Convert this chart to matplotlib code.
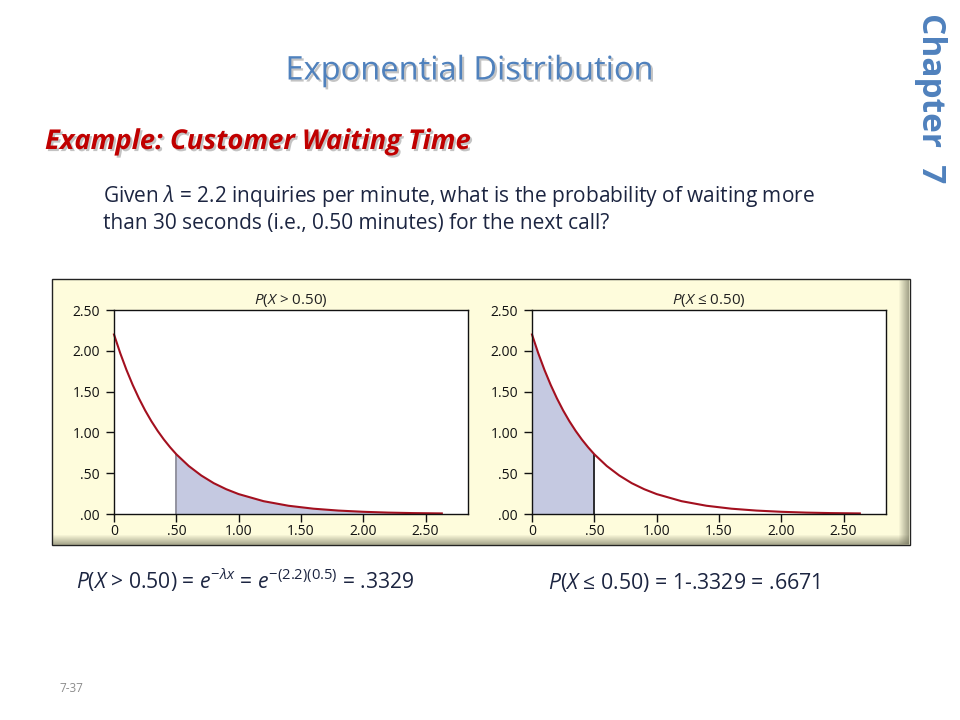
import matplotlib
matplotlib.use("Agg")
import matplotlib.pyplot as plt
import matplotlib.patheffects as pe
from matplotlib.patches import Rectangle

plt.rcParams['font.family'] = ['Open Sans', 'DejaVu Sans']
plt.rcParams['mathtext.fontset'] = 'custom'
plt.rcParams['mathtext.rm'] = 'Open Sans'
plt.rcParams['mathtext.it'] = 'Open Sans:italic'

# density curve, f(x) for lambda = 2.2
x_vals = [0.00, 0.05, 0.10, 0.15, 0.20, 0.25, 0.30, 0.35, 0.40, 0.45, 0.50,
          0.60, 0.70, 0.80, 0.90, 1.00, 1.20, 1.40, 1.60, 1.80, 2.00,
          2.20, 2.40, 2.63]
f_vals = [2.200, 1.971, 1.766, 1.582, 1.417, 1.269, 1.137, 1.019, 0.913,
          0.818, 0.732, 0.588, 0.472, 0.378, 0.304, 0.244, 0.157, 0.101,
          0.065, 0.042, 0.027, 0.017, 0.011, 0.007]
cutoff = 0.50

x_ticks = [0, 0.5, 1.0, 1.5, 2.0, 2.5]
x_labels = ['0', '.50', '1.00', '1.50', '2.00', '2.50']
y_ticks = [0, 0.5, 1.0, 1.5, 2.0, 2.5]
y_labels = ['.00', '.50', '1.00', '1.50', '2.00', '2.50']

panel_titles = [r'$P$($X$ > 0.50)', r'$P$($X$ ≤ 0.50)']

CURVE = '#a3101f'
FILL = '#c5c9e1'
BLUE = '#4f81bd'
NAVY = '#1c2541'

fig = plt.figure(figsize=(9.6, 7.2), dpi=100, facecolor='white')

# background layer in pixel coordinates
bg = fig.add_axes([0, 0, 1, 1])
bg.set_xlim(0, 960)
bg.set_ylim(720, 0)
bg.axis('off')

# yellow panel with shaded right / bottom edges
bg.add_patch(Rectangle((52, 279), 858, 266, facecolor='#fefcdc',
                       edgecolor='#222222', linewidth=1.0, zorder=1))
for i in range(10):
    a = 0.06 * (i + 1)
    bg.add_patch(Rectangle((899 + i, 280), 1, 264, facecolor='#6b6b55',
                           alpha=a, linewidth=0, zorder=2))
    bg.add_patch(Rectangle((53, 535 + i), 856, 1, facecolor='#6b6b55',
                           alpha=a, linewidth=0, zorder=2))

shadow = [pe.withSimplePatchShadow(offset=(1.5, -1.5), shadow_rgbFace='#888888', alpha=0.5)]

bg.text(469, 71, 'Exponential Distribution', color=BLUE, fontsize=23.5,
        ha='center', va='center', path_effects=shadow)
bg.text(45, 142, 'Example: Customer Waiting Time', color='#c00000', fontsize=19.7,
        fontweight='bold', fontstyle='italic', ha='left', va='center',
        path_effects=shadow)
bg.text(930, 98, 'Chapter  7', color=BLUE, fontsize=24, fontweight='bold',
        rotation=270, ha='center', va='center')

bg.text(103, 196, r'Given $\lambda$ = 2.2 inquiries per minute, what is the probability of waiting more',
        color=NAVY, fontsize=15, ha='left', va='center')
bg.text(103, 223, 'than 30 seconds (i.e., 0.50 minutes) for the next call?',
        color=NAVY, fontsize=15, ha='left', va='center')

bg.text(76, 580, r'$P$($X$ > 0.50) = $e^{-\lambda x}$ = $e^{-(2.2)(0.5)}$ = .3329',
        color=NAVY, fontsize=15.2, ha='left', va='center')
bg.text(548, 583, r'$P$($X$ ≤ 0.50) = 1-.3329 = .6671',
        color=NAVY, fontsize=15.3, ha='left', va='center')
bg.text(59, 688, '7-37', color='#8c8c8c', fontsize=8.5, ha='left', va='center')

lefts = [114, 532]
for k, left in enumerate(lefts):
    ax = fig.add_axes([left / 960, 1 - 514 / 720, 354 / 960, 204 / 720])
    ax.set_facecolor('white')
    ax.set_xlim(0, 2.84)
    ax.set_ylim(0, 2.5)
    if k == 0:
        xs = [x for x in x_vals if x >= cutoff]
        ys = [f for x, f in zip(x_vals, f_vals) if x >= cutoff]
        edge = '#808090'
    else:
        xs = [x for x in x_vals if x <= cutoff]
        ys = [f for x, f in zip(x_vals, f_vals) if x <= cutoff]
        edge = '#111111'
    ax.fill_between(xs, 0, ys, color=FILL, linewidth=0)
    ax.vlines(cutoff, 0, f_vals[x_vals.index(cutoff)], color=edge, linewidth=1.2)
    ax.plot(x_vals, f_vals, color=CURVE, linewidth=1.5, clip_on=False)
    ax.set_xticks(x_ticks)
    ax.set_xticklabels(x_labels)
    ax.set_yticks(y_ticks)
    ax.set_yticklabels(y_labels)
    ax.tick_params(direction='out', length=6, width=1, labelsize=10,
                   colors='#111111')
    ax.tick_params(axis='y', pad=4)
    ax.tick_params(axis='x', pad=1.5)
    for s in ax.spines.values():
        s.set_color('#111111')
        s.set_linewidth(1)
    ax.set_title(panel_titles[k], fontsize=11, color='#222222', pad=4)

fig.savefig('out.png', dpi=100, facecolor='white')
